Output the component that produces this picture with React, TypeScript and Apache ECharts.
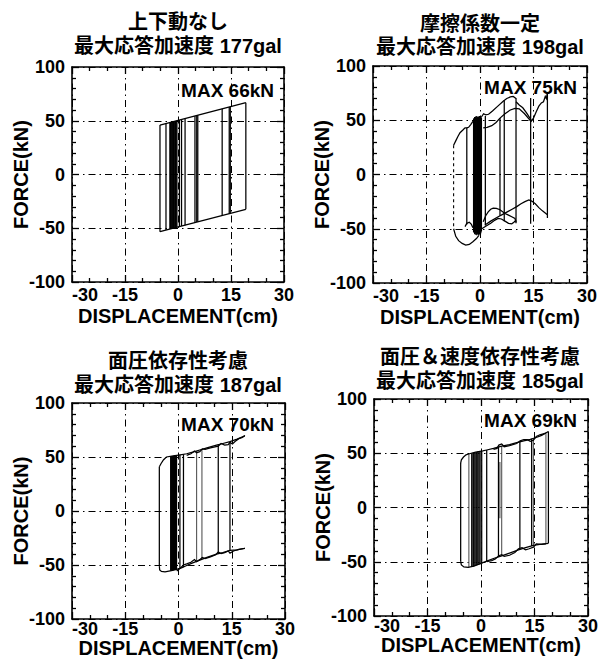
import React, { useEffect, useRef } from "react";
import * as echarts from "echarts";

type Pt = [number, number];
type Stroke = [number, number, number]; // displacement, upper force, lower force

// ---------- axes ----------
const X_MIN = -30;
const X_MAX = 30;
const X_STEP = 15;
const Y_MIN = -100;
const Y_MAX = 100;
const Y_STEP = 50;
const X_NAME = "DISPLACEMENT(cm)";
const Y_NAME = "FORCE(kN)";

// ---------- texts ----------
const TITLE_LINE1 = ["上下動なし", "摩擦係数一定", "面圧依存性考慮", "面圧＆速度依存性考慮"];
const TITLE_LINE2 = [
  "最大応答加速度 177gal",
  "最大応答加速度 198gal",
  "最大応答加速度 187gal",
  "最大応答加速度 185gal",
];
const MAX_LABELS = ["MAX 66kN", "MAX 75kN", "MAX 70kN", "MAX 69kN"];

// ---------- panel 1: 上下動なし ----------
const P1_UPPER: Pt[] = [[-5.1, 46.0], [19.2, 66.8]];
const P1_LOWER: Pt[] = [[-5.1, -53.2], [19.2, -32.4]];
const P1_STROKES: Stroke[] = [
  [-5.1, 46.0, -53.2], [-3.4, 47.5, -51.7], [-2.3, 48.4, -50.8], [-2.1, 48.6, -50.6],
  [-1.9, 48.7, -50.4], [-1.7, 48.9, -50.3], [-1.5, 49.1, -50.1], [-1.3, 49.3, -49.9],
  [-1.1, 49.4, -49.8], [-0.9, 49.6, -49.6], [-0.7, 49.8, -49.4], [-0.5, 50.0, -49.3],
  [-0.3, 50.1, -49.1], [0.4, 50.7, -48.5], [1.0, 51.2, -48.0], [2.0, 52.1, -47.1],
  [4.8, 54.5, -44.7], [5.3, 54.9, -44.3], [5.6, 55.2, -44.0], [12.5, 61.1, -38.1],
  [14.5, 62.8, -36.4], [14.8, 63.1, -36.1], [19.2, 66.8, -32.4],
];

// ---------- panel 2: 摩擦係数一定 ----------
const P2_U1: Pt[] = [[-7.4, 27], [-6.8, 31], [-6.2, 35], [-5.6, 38.5], [-4.8, 41], [-4.2, 43], [-3.7, 43], [-3.2, 43.5], [-2.6, 46], [-2.0, 49], [-1.6, 51.5], [-1.0, 53]];
const P2_U2: Pt[] = [[0.4, 53], [1.0, 56], [1.6, 55], [2.4, 55.5], [3.5, 58.5], [5.0, 63], [6.5, 67.5], [7.5, 70], [8.5, 71.5], [9.3, 72], [10.1, 70]];
const P2_U2B: Pt[] = [[10.1, 67], [11.0, 64], [12.0, 61.5], [13.0, 57], [14.0, 52], [14.5, 49]];
const P2_U3: Pt[] = [[0.9, 43], [2.0, 43.5], [3.3, 45], [4.5, 48], [5.6, 52], [7.0, 56], [8.5, 59.5], [9.8, 61], [11.0, 60.5], [12.5, 56], [14.3, 49]];
const P2_U4: Pt[] = [[14.3, 49], [15.0, 52], [15.8, 58], [16.5, 63], [17.2, 66], [17.8, 67], [18.3, 72], [18.6, 70], [18.9, 75]];
const P2_L1: Pt[] = [[-7.4, -50], [-6.8, -57], [-6.0, -61], [-5.0, -63.5], [-4.0, -65], [-3.0, -64.5], [-2.0, -62], [-1.0, -59], [-0.3, -56]];
const P2_L1B: Pt[] = [[-4.2, -48], [-3.7, -45], [-3.0, -44], [-2.4, -46], [-2.0, -49]];
const P2_L2: Pt[] = [[0.9, -43.5], [1.6, -38], [2.3, -34.5], [3.0, -32], [3.7, -31], [4.6, -31.2], [5.6, -32.5], [7.0, -36], [8.0, -37.5], [8.9, -39], [9.8, -40.5], [10.1, -44]];
const P2_L3: Pt[] = [[0.5, -50], [1.5, -48], [3.0, -45], [4.2, -42], [5.1, -40.5], [6.0, -41], [7.0, -43], [8.0, -45], [8.9, -45.5], [9.5, -44], [10.1, -42]];
const P2_L4: Pt[] = [[1.4, -46.5], [3.0, -43], [5.1, -39], [6.5, -36.5], [7.9, -34], [9.0, -32], [10.3, -29.6], [11.5, -27], [12.6, -25], [13.7, -23.5], [14.5, -24.5], [15.5, -27], [16.5, -30.5], [17.5, -33.5], [18.9, -37]];
const P2_STROKES: Stroke[] = [
  [-3.7, 43, -46], [-1.8, 51, -53], [-1.65, 52, -54], [-1.5, 53, -55], [-1.35, 52.5, -54],
  [-1.2, 53.5, -55.5], [-1.05, 52, -54.5], [-0.9, 54, -56], [-0.75, 53, -55], [-0.6, 52.5, -54],
  [-0.45, 53.5, -55.5], [-0.3, 52, -56], [-0.15, 54, -55], [0.0, 53, -54], [0.15, 52.5, -55],
  [0.3, 53, -53.5], [0.4, 52, -52], [1.5, 54, -47], [5.6, 52, -38], [6.8, 68.5, -43],
  [10.1, 70.5, -45], [14.2, 70.5, -45.5], [18.9, 75, -40],
];
const P2_DASHED: Stroke[] = [[-7.4, 27, -50]];

// ---------- panel 3: 面圧依存性考慮 ----------
const P3_UPPER: Pt[] = [[-5.4, 41], [-4.9, 44], [-4.2, 47.5], [-3.4, 50], [-1.5, 51], [0.5, 52], [2.3, 53], [4.0, 54.5], [6.0, 56.5], [8.0, 58.5], [10.7, 61], [12.5, 62.5], [14.5, 64.2], [16.5, 66.5], [18.7, 69.5]];
const P3_UPPER_WAVE: Pt[] = [[2.3, 51.5], [3.5, 53], [4.5, 55.5], [5.1, 54], [6.0, 55], [6.7, 57.5], [7.5, 57], [9.0, 58.5], [11.2, 60], [12.0, 62.5], [13.0, 61], [14.0, 61.5], [14.5, 63.5], [15.2, 62], [16.0, 64.5], [17.0, 67], [18.0, 68], [18.7, 70]];
const P3_LOWER: Pt[] = [[-5.4, -51], [-5.3, -54.5], [-4.8, -56], [-3.8, -56.3], [-2.0, -55.3], [-0.5, -54], [1.0, -52.5], [2.3, -50.5], [4.0, -48], [6.0, -45.5], [8.0, -43], [10.7, -40], [12.5, -38.5], [14.5, -36.5], [16.5, -36], [18.7, -34.5]];
const P3_LOWER_WAVE: Pt[] = [[-0.5, -55.5], [0.5, -53], [1.4, -50], [2.3, -49], [3.5, -47.5], [4.5, -45], [5.1, -47], [6.0, -45], [6.7, -43], [7.5, -44], [9.0, -42.5], [10.5, -40.5], [11.2, -38], [12.0, -39.5], [13.0, -38.5], [14.0, -37], [14.5, -39], [15.5, -37], [17.0, -35.5], [18.7, -34.5]];
const P3_STROKES: Stroke[] = [
  [-5.4, 41, -51], [-2.2, 50.8, -55.3], [-2.05, 50.9, -55.2], [-1.9, 50.9, -55.1], [-1.75, 51.0, -55.0],
  [-1.6, 51.0, -54.9], [-1.45, 51.0, -54.8], [-1.3, 51.1, -54.7], [-1.15, 51.2, -54.6], [-1.0, 51.2, -54.5],
  [-0.85, 51.3, -54.3], [-0.7, 51.4, -54.2], [-0.55, 51.5, -54.1], [0.4, 52, -53.3], [1.4, 52.5, -52],
  [11.2, 61.4, -39.6], [14.5, 64.2, -37],
];
const P3_GREY: Stroke[] = [[5.1, 55.5, -47], [6.6, 57.2, -44.5]];

// ---------- panel 4: 面圧＆速度依存性考慮 ----------
const P4_UPPER: Pt[] = [[-5.7, 41], [-5.5, 44], [-4.9, 46.5], [-4.2, 48.5], [-3.5, 49.3], [-1.5, 51], [0.5, 52.2], [1.6, 53], [3.5, 54.5], [5.8, 56.5], [8.0, 58], [10.0, 59.8], [12.0, 61.5], [13.8, 62.8], [15.5, 64.5], [17.0, 66.5], [18.9, 70]];
const P4_UPPER_WAVE: Pt[] = [[3.5, 53.5], [4.5, 54.5], [5.0, 57.5], [5.8, 58.5], [6.5, 56], [8.0, 57], [10.0, 59], [11.0, 61.5], [12.0, 62.5], [13.0, 62.5], [13.8, 61], [14.7, 62], [15.5, 65.5], [16.5, 67], [18.2, 68.5]];
const P4_LOWER: Pt[] = [[-5.7, -50], [-5.5, -53], [-4.8, -54.8], [-3.6, -55.1], [-2.0, -54], [0.0, -51.5], [1.6, -49.5], [3.5, -47], [5.8, -44.5], [8.0, -42], [10.5, -39], [12.5, -37], [14.7, -35], [16.5, -34], [18.9, -33]];
const P4_LOWER_WAVE: Pt[] = [[1.6, -50], [3.0, -49], [4.0, -47.5], [5.0, -44.5], [5.8, -43.5], [6.5, -45], [8.0, -44], [9.5, -41.5], [10.5, -38], [11.5, -37], [12.5, -39], [13.5, -38], [14.7, -36.5], [15.5, -33.5], [17.0, -34], [18.2, -33.5]];
const P4_STROKES: Stroke[] = [
  [-5.7, 41, -50], [-2.6, 50.1, -54.6], [-2.15, 50.5, -54.3], [-1.7, 50.8, -54.0], [-1.2, 51.2, -53.3],
  [-0.8, 51.5, -52.8], [-0.3, 51.8, -52.2], [0.2, 52.0, -51.7], [1.6, 53, -49.5], [4.9, 55.8, -45.5],
  [10.9, 60.5, -38], [14.2, 63.3, -35.5], [18.9, 70, -33],
];
const P4_GREY: Stroke[] = [
  [-3.4, 49.4, -55], [-2.3, 50.3, -54.4], [-1.9, 50.6, -54.1], [-1.5, 51.0, -53.7], [-1.0, 51.4, -53.0],
  [-0.5, 51.7, -52.5], [0.0, 51.9, -51.9], [5.8, 56.5, -44.5], [5.3, 42, -10], [14.7, 63.8, -35],
  [18.2, 68.5, -33.5],
];

// ---------- layout (pixels) ----------
const GRID_BOXES = [
  { left: 72, top: 67, width: 212, height: 215 },
  { left: 373, top: 66, width: 214, height: 217 },
  { left: 72, top: 403, width: 213, height: 216 },
  { left: 374, top: 399, width: 214, height: 217 },
];
const TITLE_X = [178, 480, 178, 480];
const TITLE_Y1 = [22, 23.5, 361, 356.5];
const TITLE_Y2 = [45.5, 47, 385, 380.5];
const MAX_POS = [
  { x: 274, y: 80 },
  { x: 577, y: 77 },
  { x: 274, y: 414 },
  { x: 577, y: 410 },
];
const X_LABEL_MARGIN = [4, 4, 0.5, 0.5];
const X_NAME_GAP = [23.5, 23.5, 19, 19];

const PANEL_CURVES: Pt[][][] = [
  [P1_UPPER, P1_LOWER],
  [P2_U1, P2_U2, P2_U2B, P2_U3, P2_U4, P2_L1, P2_L1B, P2_L2, P2_L3, P2_L4],
  [P3_UPPER, P3_UPPER_WAVE, P3_LOWER, P3_LOWER_WAVE],
  [P4_UPPER, P4_UPPER_WAVE, P4_LOWER, P4_LOWER_WAVE],
];
const PANEL_STROKES: Stroke[][] = [P1_STROKES, P2_STROKES, P3_STROKES, P4_STROKES];
const PANEL_GREY: Stroke[][] = [[], [], P3_GREY, P4_GREY];
const PANEL_DASHED: Stroke[][] = [[], P2_DASHED, [], []];

const LATIN = "'Liberation Sans', Arial, Helvetica, sans-serif";
// Latin font first (compact line box); CJK glyphs fall back to Noto Sans CJK JP
const TITLE_FONT = "'Liberation Sans', 'Noto Sans CJK JP', 'Noto Sans CJK SC', sans-serif";

function strokeItems(list: Stroke[]) {
  return list.map(([d, t, b]) => ({ coords: [[d, t], [d, b]] }));
}

function buildOption() {
  const grid: any[] = [];
  const xAxis: any[] = [];
  const yAxis: any[] = [];
  const series: any[] = [];
  const title: any[] = [];
  const black = "#000";
  const tick = { show: true, inside: true, length: 7, lineStyle: { color: black, width: 1.3 } };
  const axisLine = { show: true, onZero: false, lineStyle: { color: black, width: 1.6 } };
  const split = { show: true, lineStyle: { color: black, width: 1, type: [7, 4, 1.5, 4] } };
  const label = {
    show: true, color: black, fontFamily: LATIN, fontSize: 18, fontWeight: "bold",
    hideOverlap: false, showMinLabel: true, showMaxLabel: true,
  };
  const nameStyle = { color: black, fontFamily: LATIN, fontSize: 20, fontWeight: "bold" };
  const xMinor = { show: true, splitNumber: 3, length: 4, lineStyle: { color: black, width: 1.3 } };
  const yMinor = { show: true, splitNumber: 5, length: 4, lineStyle: { color: black, width: 1.3 } };

  GRID_BOXES.forEach((b) => {
    grid.push({ ...b, containLabel: false, outerBoundsMode: "none", show: false });
  });
  // primary axes
  GRID_BOXES.forEach((_, i) => {
    xAxis.push({
      type: "value", gridIndex: i, min: X_MIN, max: X_MAX, interval: X_STEP, position: "bottom",
      axisLine, axisTick: tick, minorTick: xMinor,
      axisLabel: { ...label, margin: X_LABEL_MARGIN[i], alignMinLabel: "left" }, splitLine: split,
      name: X_NAME, nameLocation: "middle", nameGap: X_NAME_GAP[i], nameMoveOverlap: false, nameTextStyle: nameStyle,
    });
    yAxis.push({
      type: "value", gridIndex: i, min: Y_MIN, max: Y_MAX, interval: Y_STEP, position: "left",
      axisLine, axisTick: tick, minorTick: yMinor,
      axisLabel: { ...label, margin: 7 }, splitLine: split,
      name: Y_NAME, nameLocation: "middle", nameGap: 41, nameRotate: 90, nameMoveOverlap: false, nameTextStyle: nameStyle,
    });
  });
  // mirrored axes (closed frame with inside ticks)
  GRID_BOXES.forEach((_, i) => {
    xAxis.push({
      type: "value", gridIndex: i, min: X_MIN, max: X_MAX, interval: X_STEP, position: "top",
      axisLine, axisTick: tick, minorTick: xMinor,
      axisLabel: { show: false }, splitLine: { show: false },
    });
    yAxis.push({
      type: "value", gridIndex: i, min: Y_MIN, max: Y_MAX, interval: Y_STEP, position: "right",
      axisLine, axisTick: tick, minorTick: yMinor,
      axisLabel: { show: false }, splitLine: { show: false },
    });
  });

  PANEL_CURVES.forEach((curves, i) => {
    series.push({
      type: "lines", coordinateSystem: "cartesian2d", xAxisIndex: i, yAxisIndex: i,
      polyline: true, silent: true, z: 5,
      lineStyle: { color: black, width: 1.25, opacity: 1 },
      data: [...curves.map((c) => ({ coords: c })), ...strokeItems(PANEL_STROKES[i])],
    });
    if (PANEL_GREY[i].length) {
      series.push({
        type: "lines", coordinateSystem: "cartesian2d", xAxisIndex: i, yAxisIndex: i,
        polyline: true, silent: true, z: 4,
        lineStyle: { color: "#555", width: 1.1, opacity: 1 },
        data: strokeItems(PANEL_GREY[i]),
      });
    }
    if (PANEL_DASHED[i].length) {
      series.push({
        type: "lines", coordinateSystem: "cartesian2d", xAxisIndex: i, yAxisIndex: i,
        polyline: true, silent: true, z: 4,
        lineStyle: { color: black, width: 1.1, opacity: 1, type: [3, 3] },
        data: strokeItems(PANEL_DASHED[i]),
      });
    }
  });

  const titleStyle = { fontFamily: TITLE_FONT, fontWeight: "bold", fontSize: 20, lineHeight: 20, color: black };
  TITLE_LINE1.forEach((t, i) => {
    title.push({ text: t, left: TITLE_X[i], top: TITLE_Y1[i] - 10, textAlign: "center", padding: 0, textStyle: titleStyle });
  });
  TITLE_LINE2.forEach((t, i) => {
    title.push({ text: t, left: TITLE_X[i], top: TITLE_Y2[i] - 10, textAlign: "center", padding: 0, textStyle: titleStyle });
  });
  MAX_LABELS.forEach((t, i) => {
    title.push({
      text: t, left: MAX_POS[i].x, top: MAX_POS[i].y, textAlign: "right", padding: 0, z: 10,
      textStyle: { fontFamily: LATIN, fontWeight: "bold", fontSize: 19, lineHeight: 20, color: black },
    });
  });

  return {
    animation: false,
    backgroundColor: "#fff",
    title, grid, xAxis, yAxis, series,
  };
}

export default function App() {
  const ref = useRef<HTMLDivElement>(null);
  useEffect(() => {
    if (!ref.current) return;
    const chart = echarts.init(ref.current, null, { renderer: "svg" });
    chart.setOption(buildOption() as any);
    return () => chart.dispose();
  }, []);
  return (
    <div
      ref={ref}
      style={{ position: "absolute", left: 0, top: 0, width: 601, height: 661, background: "#fff" }}
    />
  );
}
